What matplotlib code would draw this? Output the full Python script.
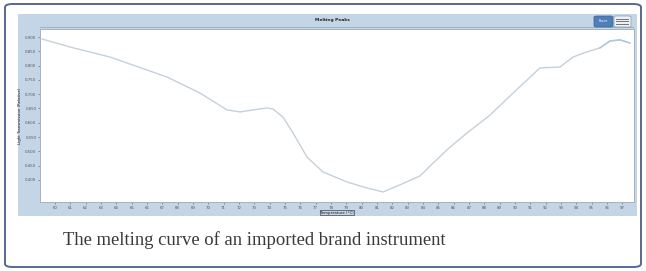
import matplotlib
matplotlib.use("Agg")
import matplotlib.pyplot as plt
from matplotlib.patches import Rectangle, FancyBboxPatch

# ---- data ----
temperature = [59.15, 60.98, 63.59, 67.31, 69.46, 71.22, 72.07, 72.92, 73.83, 74.22,
               74.87, 75.53, 76.44, 77.48, 79.05, 80.35, 81.40, 82.50, 83.81, 84.66,
               85.77, 86.87, 88.38, 89.88, 91.64, 92.94, 93.79, 94.70, 95.55, 96.20,
               96.86, 97.50]
signal = [0.893, 0.865, 0.830, 0.760, 0.704, 0.645, 0.638, 0.645, 0.652, 0.648,
          0.620, 0.564, 0.480, 0.428, 0.393, 0.372, 0.358, 0.383, 0.414, 0.459,
          0.515, 0.564, 0.627, 0.704, 0.792, 0.795, 0.830, 0.848, 0.862, 0.886,
          0.890, 0.879]
x_ticks = list(range(60, 98))
y_ticks = [0.40, 0.45, 0.50, 0.55, 0.60, 0.65, 0.70, 0.75, 0.80, 0.85, 0.90]
y_tick_labels = [f"{v:.3f}" for v in y_ticks]
chart_title = "Melting Peaks"
x_label = "Temperature (°C)"
y_label = "Light Transmission (Relative)"
caption = "The melting curve of an imported brand instrument"

W, H = 646, 271
fig = plt.figure(figsize=(W / 100, H / 100), dpi=100)
fig.patch.set_facecolor("white")


def fx(px):
    return px / W


def fy(py):
    return 1 - py / H


# outer rounded frame
fig.patches.append(FancyBboxPatch((fx(5), fy(267)), fx(636), 263 / H,
                                  boxstyle="round,pad=0,rounding_size=0.012",
                                  transform=fig.transFigure, facecolor="white",
                                  edgecolor="#5a6794", linewidth=1.4, zorder=0))
# light blue screenshot background
fig.patches.append(Rectangle((fx(18), fy(216)), fx(619), 202 / H,
                             transform=fig.transFigure, facecolor="#c4d6e6",
                             edgecolor="none", zorder=1))
# title bar bottom line
fig.patches.append(Rectangle((fx(40), fy(28)), fx(594), 1.2 / H,
                             transform=fig.transFigure, facecolor="#9fb3c6",
                             edgecolor="none", zorder=2))
fig.text(fx(332), fy(20.5), chart_title, fontsize=3.2, fontweight="bold",
         color="#222222", ha="center", va="center", zorder=3)

# legend buttons top-right
fig.patches.append(FancyBboxPatch((fx(594), fy(27)), fx(19), 11 / H,
                                  boxstyle="round,pad=0,rounding_size=0.004",
                                  transform=fig.transFigure, facecolor="#4f7fb8",
                                  edgecolor="#3a6398", linewidth=0.5, zorder=3))
fig.text(fx(603.5), fy(21.5), "Fluor", fontsize=2.6, color="white",
         ha="center", va="center", zorder=4)
fig.patches.append(FancyBboxPatch((fx(614), fy(27)), fx(17), 11 / H,
                                  boxstyle="round,pad=0,rounding_size=0.004",
                                  transform=fig.transFigure, facecolor="#eef2f6",
                                  edgecolor="#8a9aaa", linewidth=0.5, zorder=3))
for yy in (19.5, 22, 24.5):
    fig.patches.append(Rectangle((fx(616), fy(yy)), fx(13), 0.8 / H,
                                 transform=fig.transFigure, facecolor="#777777",
                                 edgecolor="none", zorder=4))

# plot area
ax = fig.add_axes([fx(40), fy(202), fx(594), 173 / H], zorder=5)
ax.set_facecolor("white")
ax.plot(temperature, signal, color="#c6d0db", linewidth=1.0,
        solid_capstyle="round", solid_joinstyle="round")
ax.plot(temperature[-4:], signal[-4:], color="#a6c8e6", linewidth=1.0,
        solid_joinstyle="round")
ax.set_xlim(59.02, 97.77)
ax.set_ylim(0.323, 0.928)
ax.set_xticks(x_ticks)
ax.set_xticklabels([str(t) for t in x_ticks], fontsize=2.8, color="#333333")
ax.set_yticks(y_ticks)
ax.set_yticklabels(y_tick_labels, fontsize=2.8, color="#333333")
ax.tick_params(length=1.2, width=0.4, pad=1.5, colors="#555555")
for s in ax.spines.values():
    s.set_color("#a8b2bc")
    s.set_linewidth(0.7)
ax.set_xlabel(x_label, fontsize=2.8, color="#111111", labelpad=0.8,
              bbox=dict(facecolor="none", edgecolor="#222222", linewidth=0.4, pad=0.3))
ax.set_ylabel(y_label, fontsize=2.8, color="#111111", labelpad=2)

fig.text(fx(254), fy(240), caption, fontsize=13.4, family="Liberation Serif",
         color="#3a3a3a", ha="center", va="center")

fig.savefig("out.png", dpi=100, facecolor=fig.get_facecolor())
